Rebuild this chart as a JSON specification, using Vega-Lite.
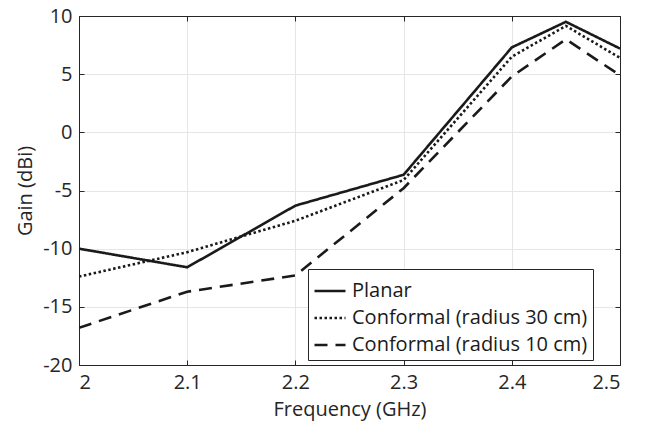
{
  "$schema": "https://vega.github.io/schema/vega-lite/v6.json",
  "width": 541,
  "height": 349,
  "autosize": {"type": "none"},
  "padding": {"left": 79, "top": 16, "right": 30, "bottom": 64},
  "background": "white",
  "config": {
    "font": "Open Sans",
    "view": {"stroke": "#262626", "strokeWidth": 1},
    "locale": {"number": {"decimal": ".", "thousands": ",", "grouping": [3], "currency": ["$", ""], "minus": "-"}}
  },
  "data": {
    "values": [
      {"freq": 2.0, "gain": -10.0, "series": "Planar"},
      {"freq": 2.1, "gain": -11.6, "series": "Planar"},
      {"freq": 2.2, "gain": -6.3, "series": "Planar"},
      {"freq": 2.3, "gain": -3.65, "series": "Planar"},
      {"freq": 2.4, "gain": 7.3, "series": "Planar"},
      {"freq": 2.45, "gain": 9.5, "series": "Planar"},
      {"freq": 2.5, "gain": 7.2, "series": "Planar"},
      {"freq": 2.0, "gain": -12.4, "series": "Conformal (radius 30 cm)"},
      {"freq": 2.1, "gain": -10.3, "series": "Conformal (radius 30 cm)"},
      {"freq": 2.2, "gain": -7.6, "series": "Conformal (radius 30 cm)"},
      {"freq": 2.3, "gain": -4.1, "series": "Conformal (radius 30 cm)"},
      {"freq": 2.4, "gain": 6.5, "series": "Conformal (radius 30 cm)"},
      {"freq": 2.45, "gain": 9.15, "series": "Conformal (radius 30 cm)"},
      {"freq": 2.5, "gain": 6.4, "series": "Conformal (radius 30 cm)"},
      {"freq": 2.0, "gain": -16.8, "series": "Conformal (radius 10 cm)"},
      {"freq": 2.1, "gain": -13.7, "series": "Conformal (radius 10 cm)"},
      {"freq": 2.2, "gain": -12.3, "series": "Conformal (radius 10 cm)"},
      {"freq": 2.3, "gain": -4.8, "series": "Conformal (radius 10 cm)"},
      {"freq": 2.4, "gain": 4.8, "series": "Conformal (radius 10 cm)"},
      {"freq": 2.45, "gain": 8.0, "series": "Conformal (radius 10 cm)"},
      {"freq": 2.5, "gain": 4.9, "series": "Conformal (radius 10 cm)"}
    ]
  },
  "resolve": {"axis": {"x": "independent", "y": "independent"}},
  "layer": [
    {
      "mark": {"type": "line", "strokeWidth": 2.6, "color": "#1a1a1a", "clip": true},
      "encoding": {
        "x": {
          "field": "freq", "type": "quantitative",
          "scale": {"domain": [2, 2.5], "nice": false, "zero": false},
          "axis": {
            "title": "Frequency (GHz)", "values": [2, 2.1, 2.2, 2.3, 2.4, 2.5], "format": ".1~f",
            "labelFontSize": 20, "titleFontSize": 20, "titleFontWeight": "normal",
            "labelColor": "#262626", "titleColor": "#262626",
            "domainColor": "#262626", "tickColor": "#262626", "tickSize": -5,
            "labelPadding": 12, "titlePadding": 7,
            "gridColor": "#e6e6e6", "gridWidth": 1
          }
        },
        "y": {
          "field": "gain", "type": "quantitative",
          "scale": {"domain": [-20, 10], "nice": false, "zero": false},
          "axis": {
            "title": "Gain (dBi)", "values": [-20, -15, -10, -5, 0, 5, 10],
            "labelFontSize": 20, "titleFontSize": 20, "titleFontWeight": "normal",
            "labelColor": "#262626", "titleColor": "#262626",
            "domainColor": "#262626", "tickColor": "#262626", "tickSize": -5,
            "labelPadding": 12, "titlePadding": 7,
            "gridColor": "#e6e6e6", "gridWidth": 1
          }
        },
        "strokeDash": {
          "field": "series", "type": "nominal",
          "scale": {
            "domain": ["Planar", "Conformal (radius 30 cm)", "Conformal (radius 10 cm)"],
            "range": [[1, 0], [2.5, 2.5], [13, 8]]
          },
          "legend": {
            "title": null, "orient": "none", "legendX": 229, "legendY": 253,
            "labelFontSize": 20, "labelColor": "#1a1a1a", "labelLimit": 0,
            "symbolType": "stroke", "symbolSize": 961, "symbolStrokeWidth": 2.6,
            "symbolStrokeColor": "#1a1a1a",
            "labelOffset": 5, "padding": 5, "rowPadding": -3,
            "strokeColor": "#262626", "fillColor": "white", "cornerRadius": 0
          }
        }
      }
    },
    {
      "mark": {"type": "line", "opacity": 0},
      "encoding": {
        "x": {
          "field": "freq", "type": "quantitative",
          "axis": {
            "orient": "top", "title": null, "labels": false, "grid": false,
            "values": [2, 2.1, 2.2, 2.3, 2.4, 2.5],
            "domainColor": "#262626", "tickColor": "#262626", "tickSize": -5
          }
        },
        "y": {
          "field": "gain", "type": "quantitative",
          "axis": {
            "orient": "right", "title": null, "labels": false, "grid": false,
            "values": [-20, -15, -10, -5, 0, 5, 10],
            "domainColor": "#262626", "tickColor": "#262626", "tickSize": -5
          }
        },
        "detail": {"field": "series", "type": "nominal"}
      }
    }
  ]
}
